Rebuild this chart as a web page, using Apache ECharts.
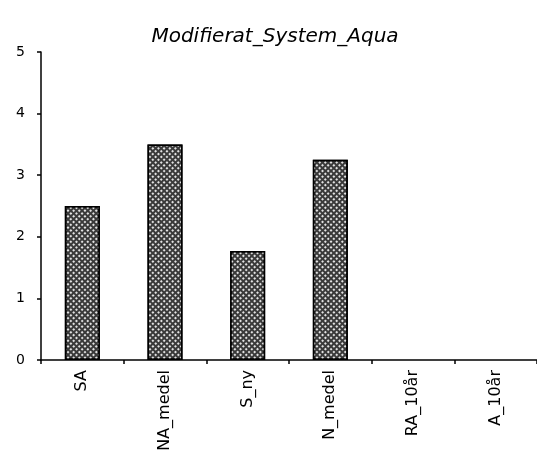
<!DOCTYPE html>
<html><head><meta charset="utf-8">
<script src="https://cdn.jsdelivr.net/npm/echarts@6/dist/echarts.min.js"></script>
<style>html,body{margin:0;padding:0;background:#fff}#c{width:537px;height:465px}</style>
</head><body><div id="c"></div>
<script>
const titleText = 'Modifierat_System_Aqua';
const categories = ['SA', 'NA_medel', 'S_ny', 'N_medel', 'RA_10år', 'A_10år'];
const values = [2.5, 3.5, 1.77, 3.25, null, null];
const yTicks = [0, 1, 2, 3, 4, 5];

const chart = echarts.init(document.getElementById('c'), null, {renderer: 'canvas'});
chart.setOption({
  animation: false,
  backgroundColor: '#fff',
  title: {
    text: titleText, left: 270, top: 22, textAlign: 'center',
    textStyle: {fontFamily: 'DejaVu Sans', fontStyle: 'italic', fontWeight: 'normal', fontSize: 20, color: '#000'}
  },
  grid: {left: 41, right: 0, top: 52, bottom: 105, containLabel: false},
  xAxis: {
    type: 'category', data: categories, boundaryGap: true,
    axisLine: {lineStyle: {color: '#000', width: 1.5}},
    axisTick: {show: true, inside: false, length: 4, lineStyle: {color: '#000', width: 1.5}},
    axisLabel: {rotate: 90, color: '#000', fontFamily: 'DejaVu Sans', fontSize: 16, margin: 10}
  },
  yAxis: {
    type: 'value', min: 0, max: 5, interval: 1,
    splitLine: {show: false},
    axisLine: {show: true, lineStyle: {color: '#000', width: 1.5}},
    axisTick: {show: true, length: 4, lineStyle: {color: '#000', width: 1.5}},
    axisLabel: {color: '#000', fontFamily: 'DejaVu Sans', fontSize: 14, margin: 16,
      formatter: v => yTicks.includes(v) ? String(v) : ''}
  },
  series: [{
    type: 'bar', data: values, barWidth: 35,
    itemStyle: {
      color: '#3a3a3a', borderColor: '#000', borderWidth: 1.5,
      decal: {color: 'rgba(255,255,255,0.85)', symbol: 'rect', symbolSize: 1,
        dashArrayX: [[2, 1.5]], dashArrayY: [2, 1.5], rotation: 0.785}
    }
  }]
});
</script></body></html>
